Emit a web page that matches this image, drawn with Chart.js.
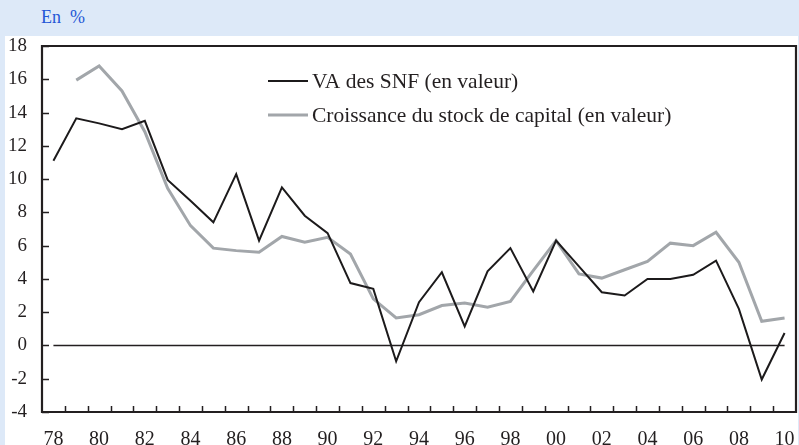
<!DOCTYPE html>
<html>
<head>
<meta charset="utf-8">
<script src="https://cdn.jsdelivr.net/npm/chart.js@4"></script>
<style>
  body { margin: 0; background: #dde9f8; width: 799px; height: 445px; overflow: hidden; position: relative; }
  #panel { position: absolute; left: 5px; top: 36px; width: 793px; height: 409px; background: #fff; }
  #unit { position: absolute; left: 41px; top: 7px; color: #2457d6; font: 18px "Liberation Serif", serif; white-space: pre; }
  #chart { position: absolute; left: 0; top: 0; }
</style>
</head>
<body>
<div id="panel"></div>
<div id="unit">En  %</div>
<canvas id="chart" width="799" height="445"></canvas>
<script>
const years = ['1978','1979','1980','1981','1982','1983','1984','1985','1986','1987','1988',
  '1989','1990','1991','1992','1993','1994','1995','1996','1997','1998','1999','2000',
  '2001','2002','2003','2004','2005','2006','2007','2008','2009','2010'];

// VA des SNF (en valeur)
const vaSnf = [11.1, 13.65, 13.35, 13.0, 13.5, 9.95, 8.7, 7.4, 10.3, 6.3, 9.5,
  7.8, 6.75, 3.75, 3.4, -0.95, 2.6, 4.4, 1.15, 4.45, 5.85, 3.25, 6.3,
  4.75, 3.2, 3.0, 4.0, 4.0, 4.25, 5.1, 2.2, -2.05, 0.75];

// Croissance du stock de capital (en valeur)
const stockCapital = [null, 15.95, 16.8, 15.3, 12.85, 9.45, 7.2, 5.85, 5.7, 5.6, 6.55,
  6.2, 6.5, 5.5, 2.8, 1.65, 1.85, 2.4, 2.55, 2.3, 2.65, 4.5, 6.3,
  4.3, 4.05, 4.55, 5.05, 6.15, 6.0, 6.8, 5.0, 1.45, 1.65];

const zeroLine = years.map(() => 0);

const seriesNames = ['VA des SNF (en valeur)', 'Croissance du stock de capital (en valeur)'];
const yMin = -4, yMax = 18, yStep = 2;

const ink = '#231f20';
const serif = '"Liberation Serif", serif';

// inward ticks, closed frame and the legend inside the plot
const frameAndLegend = {
  id: 'frameAndLegend',
  afterDraw(chart) {
    const { ctx, chartArea: a, scales: { x, y } } = chart;
    ctx.save();
    ctx.strokeStyle = ink;
    ctx.lineWidth = 1.5;
    const step = x.getPixelForValue(1) - x.getPixelForValue(0);
    ctx.beginPath();
    for (let i = 1; i < years.length; i++) {
      const px = Math.round(x.getPixelForValue(i) - step / 2) + 0.5;
      ctx.moveTo(px, a.bottom);
      ctx.lineTo(px, a.bottom - 6);
    }
    y.ticks.forEach(t => {
      const py = Math.round(y.getPixelForValue(t.value)) + 0.5;
      ctx.moveTo(a.left, py);
      ctx.lineTo(a.left + 7, py);
    });
    ctx.stroke();

    ctx.lineWidth = 2.2;
    ctx.beginPath();
    ctx.moveTo(a.left, a.top);
    ctx.lineTo(a.right, a.top);
    ctx.lineTo(a.right, a.bottom);
    ctx.lineTo(a.left, a.bottom);
    ctx.closePath();
    ctx.stroke();

    const lx = a.left + 226, ly = a.top + 35;
    ctx.font = '21.5px ' + serif;
    ctx.textBaseline = 'middle';
    ctx.fillStyle = ink;
    chart.data.datasets.slice(0, 2).forEach((ds, i) => {
      const yy = ly + i * 34;
      ctx.strokeStyle = ds.borderColor;
      ctx.lineWidth = ds.borderWidth;
      ctx.beginPath();
      ctx.moveTo(lx, yy);
      ctx.lineTo(lx + 40, yy);
      ctx.stroke();
      ctx.fillText(ds.label, lx + 44, yy + 1);
    });
    ctx.restore();
  }
};

new Chart(document.getElementById('chart'), {
  type: 'line',
  data: {
    labels: years,
    datasets: [
      { label: seriesNames[0], data: vaSnf, borderColor: '#1c1a1b', borderWidth: 2, pointRadius: 0, tension: 0, order: 1 },
      { label: seriesNames[1], data: stockCapital, borderColor: '#a2a6aa', borderWidth: 3, pointRadius: 0, tension: 0, order: 2 },
      { label: 'zero', data: zeroLine, borderColor: '#231f20', borderWidth: 1.5, pointRadius: 0, order: 3 }
    ]
  },
  options: {
    responsive: false,
    animation: false,
    devicePixelRatio: 1,
    layout: { padding: { top: 46, right: 3, left: 0, bottom: 0 } },
    plugins: { legend: { display: false }, tooltip: { enabled: false } },
    scales: {
      x: {
        type: 'category',
        offset: true,
        grid: { display: false, drawTicks: false },
        border: { display: false },
        ticks: {
          autoSkip: false,
          maxRotation: 0,
          padding: 16,
          color: ink,
          font: { family: serif, size: 20 },
          callback: (v, i) => (parseInt(years[i]) % 2 === 0 ? years[i].slice(2) : '')
        },
        afterFit: s => { s.height = 33; s.paddingLeft = 0; s.paddingRight = 0; }
      },
      y: {
        min: yMin,
        max: yMax,
        grid: { display: false, drawTicks: false },
        border: { display: false },
        ticks: { stepSize: yStep, padding: 15, color: ink, font: { family: serif, size: 19 } },
        afterFit: s => { s.width = 42; s.paddingTop = 0; s.paddingBottom = 0; }
      }
    }
  },
  plugins: [frameAndLegend]
});
</script>
</body>
</html>
